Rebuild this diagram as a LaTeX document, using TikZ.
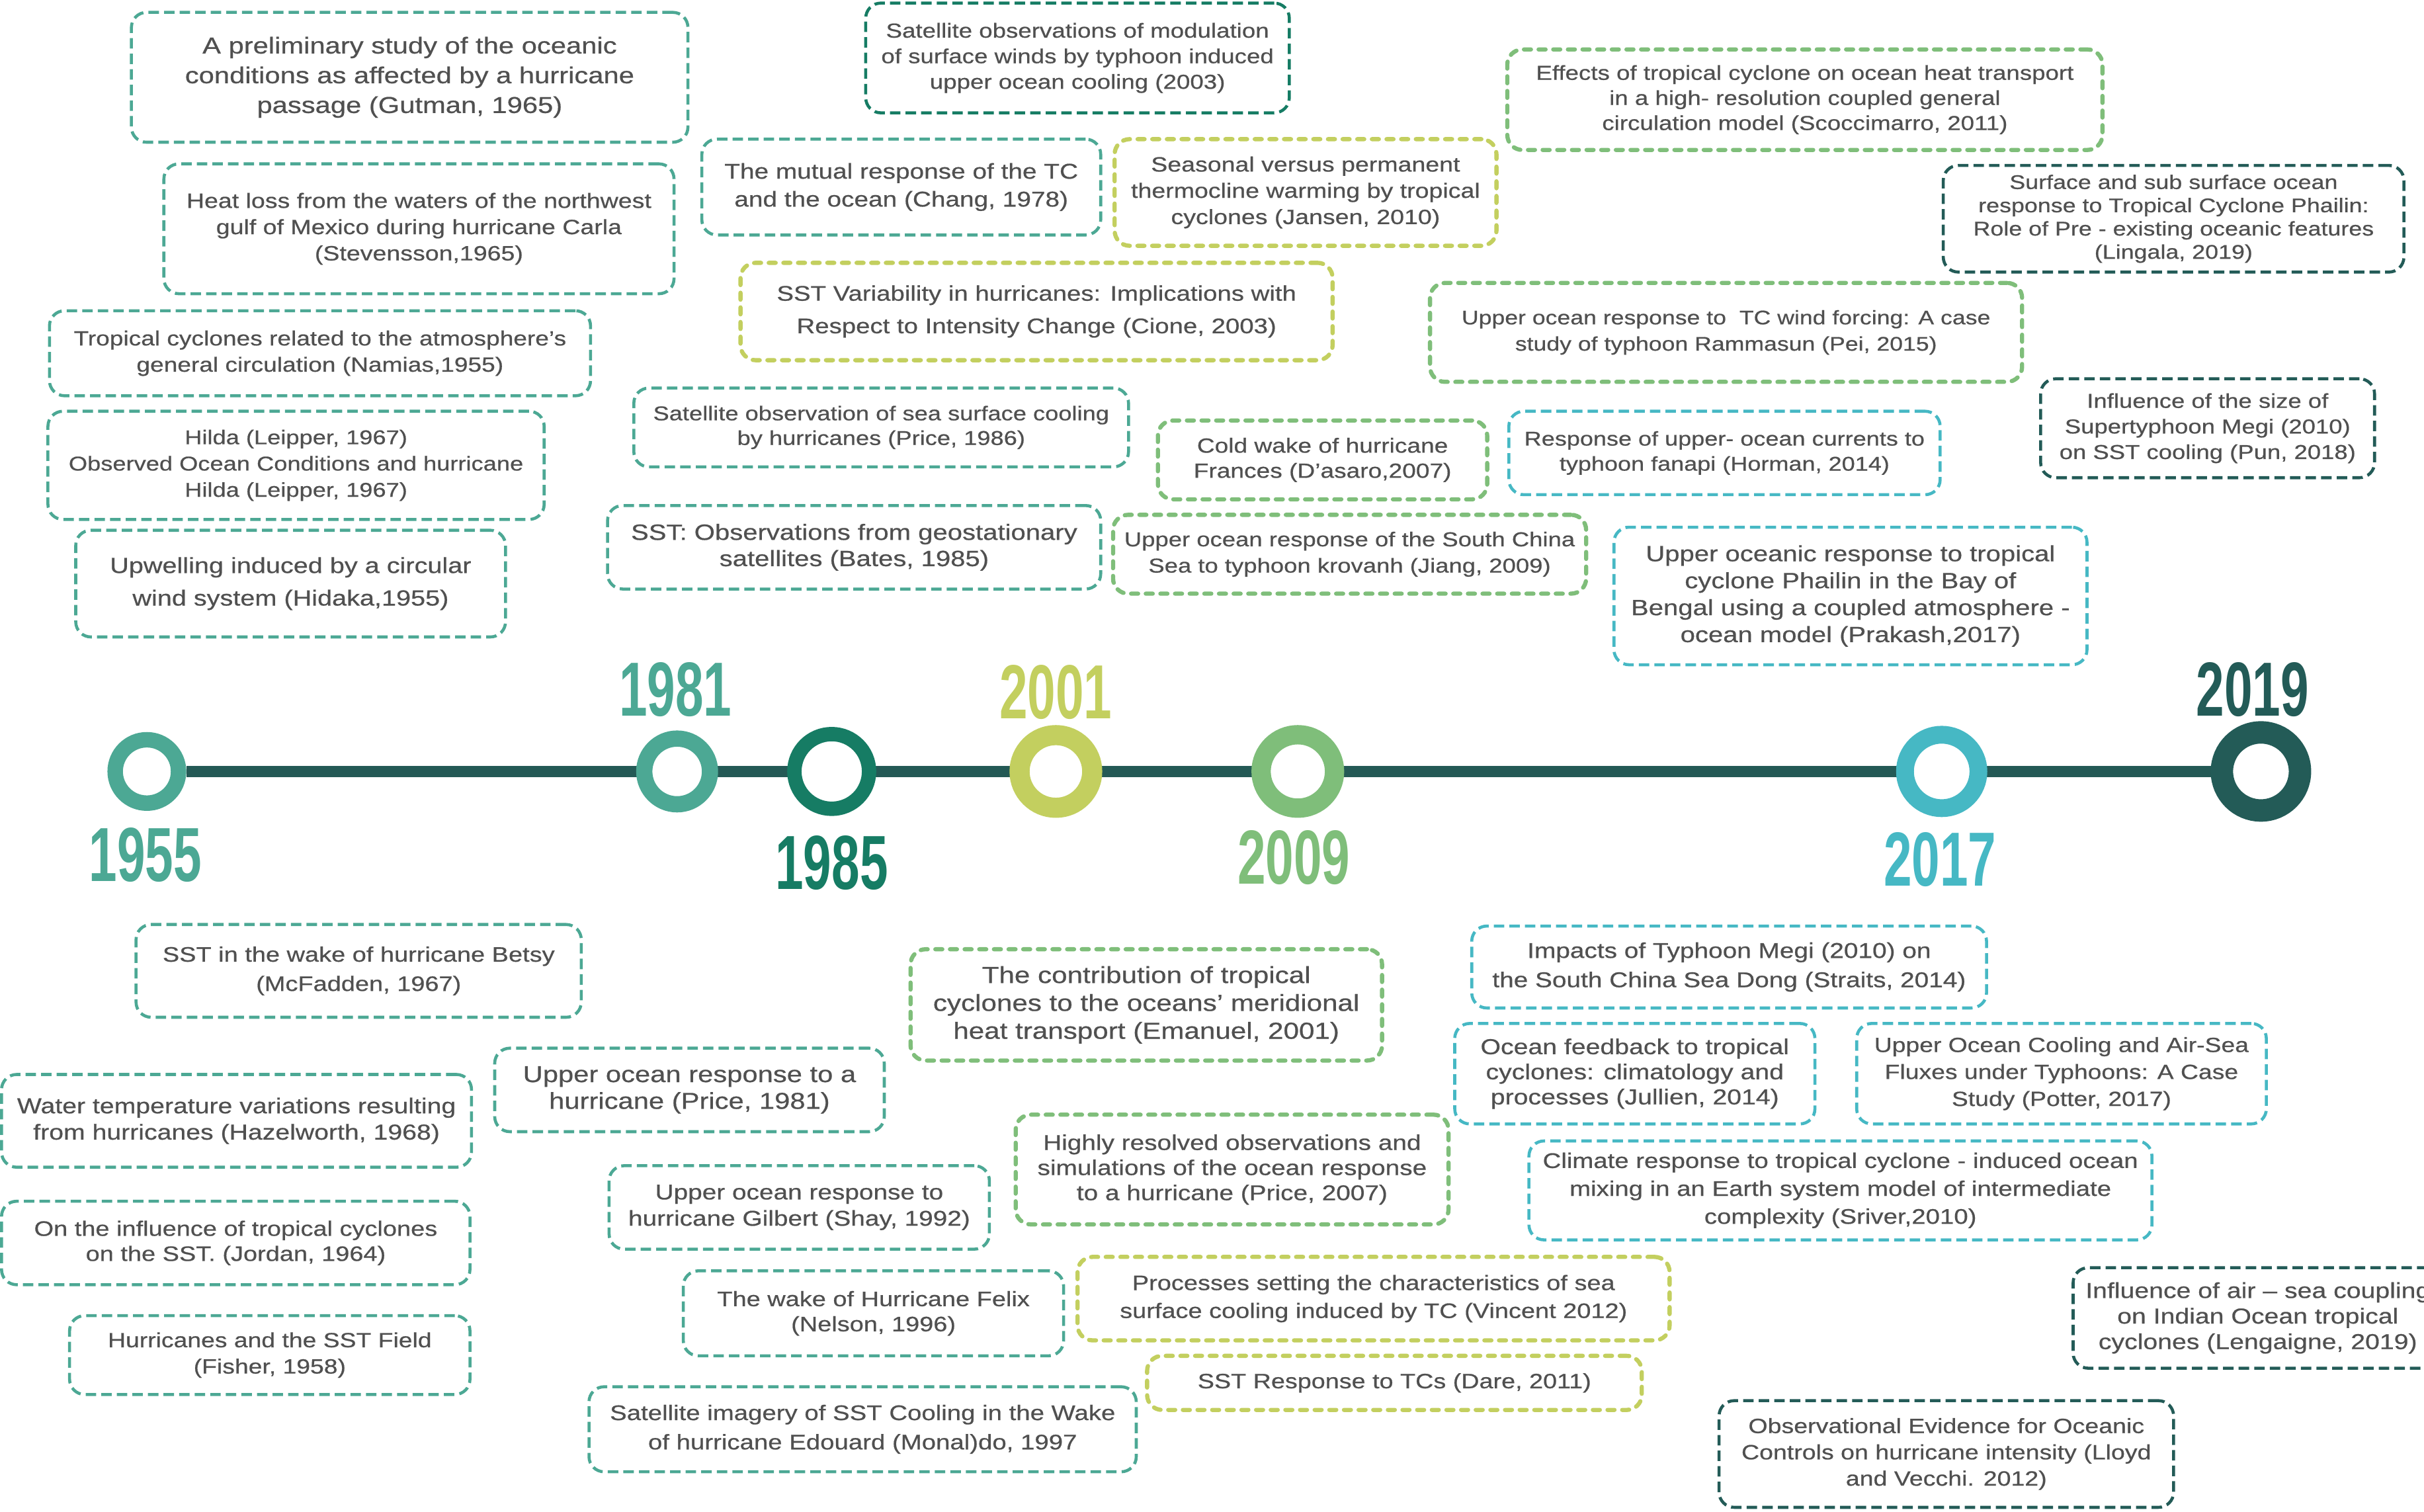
\documentclass[tikz,border=0pt]{standalone}
\usepackage{fontspec}
\setmainfont{Liberation Sans}[FakeStretch=1.2,FakeBold=0.6]
\newfontfamily\yearfont{Liberation Sans}[FakeStretch=0.66]
\usetikzlibrary{backgrounds}
\definecolor{teal1}{HTML}{4CA894}
\definecolor{dkgreen}{HTML}{167C64}
\definecolor{ygreen}{HTML}{C3CF5F}
\definecolor{green1}{HTML}{7FBE7A}
\definecolor{cyan1}{HTML}{46B8C4}
\definecolor{dark1}{HTML}{235B57}
\definecolor{linec}{HTML}{245955}
\definecolor{txt}{HTML}{505050}
\def\un{0.023374cm}
\tikzset{
  bx/.style={draw, rounded corners=6.5pt, dash pattern=on 4.5pt off 2.2pt, line width=1.3pt, inner sep=0pt, align=center, text=txt, fill=white},
  bxg/.style={bx, line width=1.8pt, dash pattern=on 3pt off 3.3pt, line cap=round},
  tl/.style={bx, draw=teal1},
  dg/.style={bx, draw=dkgreen},
  dk/.style={bx, draw=dark1},
  cy/.style={bx, draw=cyan1},
  yg/.style={bxg, draw=ygreen},
  gr/.style={bxg, draw=green1},
  ring/.style={circle, fill=white, inner sep=0pt},
  yearlbl/.style={anchor=base, inner sep=0pt, font=\yearfont\bfseries\fontsize{33pt}{33pt}\selectfont}
}
\newcommand{\rbox}[9]{%
  \node[#2, minimum width={(#5-#3)*\un}, minimum height={(#6-#4)*\un}, font=\fontsize{#7}{#8}\selectfont] (#1) at ({(#3+#5)/2},{(#4+#6)/2}) {#9};
}
\newcommand{\yring}[5]{% name, color, x, diameter, linewidth
  \node[ring, draw=#2, minimum size={#4*\un}, line width={#5*\un}] (#1) at (#3,499) {};
}
\begin{document}
\begin{tikzpicture}[x=\un, y=-\un]
\useasboundingbox (0,0) rectangle (1568,978);
\clip (0,0) rectangle (1568,978);
% ---------- top boxes
\rbox{gutman}{tl}{85}{8}{445}{92}{9.9pt}{12.8pt}{A preliminary study of the oceanic\\conditions as affected by a hurricane\\passage (Gutman, 1965)}
\rbox{stevensson}{tl}{106}{106}{436}{190}{8.9pt}{11.3pt}{Heat loss from the waters of the northwest\\gulf of Mexico during hurricane Carla\\(Stevensson,1965)}
\rbox{namias}{tl}{32}{201}{382}{256}{8.8pt}{11.3pt}{Tropical cyclones related to the atmosphere's\\general circulation (Namias,1955)}
\rbox{hilda}{tl}{31}{266}{352}{336}{8.6pt}{11.3pt}{Hilda (Leipper, 1967)\\Observed Ocean Conditions and hurricane\\Hilda (Leipper, 1967)}
\rbox{hidaka}{tl}{49}{343}{327}{412}{9.4pt}{14pt}{Upwelling induced by a circular\\wind system (Hidaka,1955)}
\rbox{sat2003}{dg}{560}{2}{834}{73}{8.7pt}{11pt}{Satellite observations of modulation\\of surface winds by typhoon induced\\upper ocean cooling (2003)}
\rbox{chang}{tl}{454}{90}{712}{152}{9.2pt}{12pt}{The mutual response of the TC\\and the ocean (Chang, 1978)}
\rbox{jansen}{yg}{721}{90}{968}{159}{8.9pt}{11.3pt}{Seasonal versus permanent\\thermocline warming by tropical\\cyclones (Jansen, 2010)}
\rbox{cione}{yg}{479}{170}{862}{233}{9.1pt}{14pt}{SST Variability in hurricanes: Implications with\\Respect to Intensity Change (Cione, 2003)}
\rbox{price86}{tl}{410}{251}{730}{302}{8.6pt}{10.6pt}{Satellite observation of sea surface cooling\\by hurricanes (Price, 1986)}
\rbox{bates}{tl}{393}{327}{712}{381}{9.5pt}{11.3pt}{SST: Observations from geostationary\\satellites (Bates, 1985)}
\rbox{coldwake}{gr}{749}{272}{962}{323}{8.8pt}{10.8pt}{Cold wake of hurricane\\Frances (D’asaro,2007)}
\rbox{jiang}{gr}{720}{333}{1026}{384}{8.65pt}{11.3pt}{Upper ocean response of the South China\\Sea to typhoon krovanh (Jiang, 2009)}
\rbox{scocc}{gr}{975}{32}{1360}{97}{8.7pt}{10.8pt}{Effects of tropical cyclone on ocean heat transport\\in a high- resolution coupled general\\circulation model (Scoccimarro, 2011)}
\rbox{lingala}{dk}{1257}{107}{1555}{176}{8.5pt}{10pt}{Surface and sub surface ocean\\response to Tropical Cyclone Phailin:\\Role of Pre - existing oceanic features\\(Lingala, 2019)}
\rbox{pei}{gr}{925}{183}{1308}{247}{8.45pt}{11.3pt}{Upper ocean response to\ \ TC wind forcing: A case\\study of typhoon Rammasun (Pei, 2015)}
\rbox{horman}{cy}{976}{266}{1255}{320}{8.55pt}{10.8pt}{Response of upper- ocean currents to\\typhoon fanapi (Horman, 2014)}
\rbox{pun}{dk}{1320}{245}{1536}{309}{8.65pt}{11pt}{Influence of the size of\\Supertyphoon Megi (2010)\\on SST cooling (Pun, 2018)}
\rbox{prakash}{cy}{1044}{341}{1350}{430}{9.5pt}{11.6pt}{Upper oceanic response to tropical\\cyclone Phailin in the Bay of\\Bengal using a coupled atmosphere -\\ocean model (Prakash,2017)}
% ---------- bottom boxes
\rbox{mcfadden}{tl}{88}{598}{376}{658}{9.0pt}{12.6pt}{SST in the wake of hurricane Betsy\\(McFadden, 1967)}
\rbox{hazel}{tl}{1}{695}{305}{755}{9.3pt}{11.3pt}{Water temperature variations resulting\\from hurricanes (Hazelworth, 1968)}
\rbox{price81}{tl}{320}{678}{572}{732}{9.9pt}{11.5pt}{Upper ocean response to a\\hurricane (Price, 1981)}
\rbox{jordan}{tl}{1}{777}{304}{831}{9.0pt}{10.8pt}{On the influence of tropical cyclones\\on the SST. (Jordan, 1964)}
\rbox{fisher}{tl}{45}{851}{304}{902}{8.85pt}{11.3pt}{Hurricanes and the SST Field\\(Fisher, 1958)}
\rbox{shay}{tl}{394}{754}{640}{808}{9.2pt}{11.3pt}{Upper ocean response to\\hurricane Gilbert (Shay, 1992)}
\rbox{nelson}{tl}{442}{822}{688}{877}{9.0pt}{10.8pt}{The wake of Hurricane Felix\\(Nelson, 1996)}
\rbox{monaldo}{tl}{381}{897}{735}{952}{9.1pt}{12.6pt}{Satellite imagery of SST Cooling in the Wake\\of hurricane Edouard (Monal)do, 1997}
\rbox{emanuel}{gr}{589}{614}{894}{686}{10.0pt}{12pt}{The contribution of tropical\\cyclones to the oceans' meridional\\heat transport (Emanuel, 2001)}
\rbox{price07}{gr}{657}{721}{937}{792}{9.2pt}{10.8pt}{Highly resolved observations and\\simulations of the ocean response\\to a hurricane (Price, 2007)}
\rbox{vincent}{yg}{697}{813}{1080}{867}{9.0pt}{12pt}{Processes setting the characteristics of sea\\surface cooling induced by TC (Vincent 2012)}
\rbox{dare}{yg}{742}{877}{1062}{912}{8.95pt}{11pt}{SST Response to TCs (Dare, 2011)}
\rbox{straits}{cy}{952}{599}{1285}{652}{9.2pt}{12.6pt}{Impacts of Typhoon Megi (2010) on\\the South China Sea Dong (Straits, 2014)}
\rbox{jullien}{cy}{941}{662}{1174}{727}{9.3pt}{10.8pt}{Ocean feedback to tropical\\cyclones: climatology and\\processes (Jullien, 2014)}
\rbox{potter}{cy}{1201}{662}{1466}{727}{8.85pt}{11.6pt}{Upper Ocean Cooling and Air-Sea\\Fluxes under Typhoons: A Case\\Study (Potter, 2017)}
\rbox{sriver}{cy}{989}{738}{1392}{802}{9.1pt}{12pt}{Climate response to tropical cyclone - induced ocean\\mixing in an Earth system model of intermediate\\complexity (Sriver,2010)}
\rbox{lengaigne}{dk}{1341}{820}{1580}{885}{9.3pt}{11pt}{Influence of air – sea coupling\\on Indian Ocean tropical\\cyclones (Lengaigne, 2019)}
\rbox{lloyd}{dk}{1112}{906}{1406}{975}{8.9pt}{11.3pt}{Observational Evidence for Oceanic\\Controls on hurricane intensity (Lloyd\\and Vecchi. 2012)}
% ---------- timeline
\yring{y1955}{teal1}{95}{41}{10}
\yring{y1981}{teal1}{438}{42.5}{10.5}
\yring{y1985}{dkgreen}{538}{48.3}{9.3}
\yring{y2001}{ygreen}{683}{47}{13}
\yring{y2009}{green1}{839.5}{47.5}{12.5}
\yring{y2017}{cyan1}{1256}{47.5}{11.5}
\yring{y2019}{dark1}{1462.5}{50.5}{14.5}
\begin{scope}[on background layer]
\draw[linec, line width={7*\un}] (y1955) -- (y2019);
\end{scope}
\node[yearlbl, text=teal1] (l1955) at (94,570) {1955};
\node[yearlbl, text=teal1] (l1981) at (437,463) {1981};
\node[yearlbl, text=dkgreen] (l1985) at (538,575) {1985};
\node[yearlbl, text=ygreen] (l2001) at (683,465) {2001};
\node[yearlbl, text=green1] (l2009) at (837,572) {2009};
\node[yearlbl, text=cyan1] (l2017) at (1255,573) {2017};
\node[yearlbl, text=dark1] (l2019) at (1457,463) {2019};
\end{tikzpicture}
\end{document}
